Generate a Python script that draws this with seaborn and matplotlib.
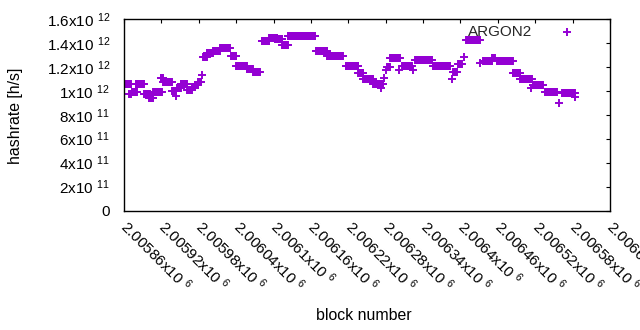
import numpy as np
import pandas as pd
import matplotlib
matplotlib.use("Agg")
import matplotlib.pyplot as plt
import seaborn as sns

# runs of consecutive blocks that share one hashrate value
run_start = [2005860, 2005868, 2005873, 2005879, 2005892, 2005900, 2005907, 2005919,
             2005923, 2005937, 2005943, 2005945, 2005951, 2005961, 2005969, 2005974,
             2005979, 2005985, 2005987, 2005993, 2006003, 2006014, 2006032, 2006040,
             2006057, 2006067, 2006081, 2006093, 2006102, 2006114, 2006123, 2006168,
             2006186, 2006216, 2006236, 2006244, 2006260, 2006272, 2006277, 2006281,
             2006282, 2006287, 2006301, 2006306, 2006324, 2006327, 2006356, 2006386,
             2006388, 2006396, 2006406, 2006409, 2006431, 2006436, 2006451, 2006459,
             2006484, 2006496, 2006513, 2006516, 2006536, 2006558, 2006563, 2006584]
run_end = [2005871, 2005871, 2005881, 2005892, 2005902, 2005907, 2005921, 2005923,
           2005937, 2005943, 2005943, 2005951, 2005961, 2005969, 2005974, 2005979,
           2005984, 2005985, 2005993, 2006003, 2006014, 2006030, 2006040, 2006057,
           2006067, 2006078, 2006093, 2006106, 2006114, 2006123, 2006167, 2006186,
           2006211, 2006236, 2006244, 2006260, 2006276, 2006272, 2006277, 2006281,
           2006287, 2006303, 2006301, 2006322, 2006324, 2006354, 2006383, 2006386,
           2006394, 2006402, 2006406, 2006431, 2006431, 2006451, 2006455, 2006484,
           2006496, 2006515, 2006513, 2006532, 2006555, 2006558, 2006584, 2006584]
run_rate = [1.06, 0.97, 0.99, 1.055, 0.97, 0.94, 0.99, 1.11,
            1.07, 1.00, 0.96, 1.02, 1.06, 1.01, 1.03, 1.05,
            1.07, 1.13, 1.28, 1.32, 1.335, 1.355, 1.29, 1.21,
            1.18, 1.16, 1.42, 1.445, 1.43, 1.38, 1.455, 1.33,
            1.295, 1.21, 1.145, 1.10, 1.06, 1.02, 1.11, 1.17,
            1.195, 1.27, 1.17, 1.21, 1.17, 1.255, 1.21, 1.095,
            1.16, 1.22, 1.28, 1.425, 1.23, 1.245, 1.275, 1.245,
            1.145, 1.095, 1.02, 1.045, 0.99, 0.895, 0.98, 0.945]

x_ticks = [2005860, 2005920, 2005980, 2006040, 2006100, 2006160, 2006220,
           2006280, 2006340, 2006400, 2006460, 2006520, 2006580, 2006640]
x_tick_labels = ['2.00586x10 $^{6}$', '2.00592x10 $^{6}$', '2.00598x10 $^{6}$',
                 '2.00604x10 $^{6}$', '2.0061x10 $^{6}$', '2.00616x10 $^{6}$',
                 '2.00622x10 $^{6}$', '2.00628x10 $^{6}$', '2.00634x10 $^{6}$',
                 '2.0064x10 $^{6}$', '2.00646x10 $^{6}$', '2.00652x10 $^{6}$',
                 '2.00658x10 $^{6}$', '2.00664x10 $^{6}$']
y_ticks = [0, 0.2e12, 0.4e12, 0.6e12, 0.8e12, 1.0e12, 1.2e12, 1.4e12, 1.6e12]
y_tick_labels = ['0', '2x10 $^{11}$', '4x10 $^{11}$', '6x10 $^{11}$', '8x10 $^{11}$',
                 '1x10 $^{12}$', '1.2x10 $^{12}$', '1.4x10 $^{12}$', '1.6x10 $^{12}$']

blocks = np.concatenate([np.arange(s, e + 1) for s, e in zip(run_start, run_end)])
rates = np.concatenate([np.full(e - s + 1, r * 1e12) for s, e, r in zip(run_start, run_end, run_rate)])
df = pd.DataFrame({'block': blocks, 'hashrate': rates})

sns.set_style('white')
plt.rcParams['font.family'] = ['Liberation Sans', 'DejaVu Sans']
plt.rcParams['mathtext.fontset'] = 'custom'
plt.rcParams['mathtext.rm'] = 'Liberation Sans'
plt.rcParams['mathtext.it'] = 'Liberation Sans'
plt.rcParams['mathtext.bf'] = 'Liberation Sans'
fs = 11

fig = plt.figure(figsize=(6.4, 3.3), dpi=100)
ax = fig.add_axes([124 / 640, 1 - 210.5 / 330, 486 / 640, 191.5 / 330])

sns.scatterplot(data=df, x='block', y='hashrate', marker='+', color='#9400d3',
                s=26, linewidth=1.4, label='ARGON2', ax=ax)

ax.set_xlim(2005860, 2006640)
ax.set_ylim(0, 1.6e12)
ax.set_xticks(x_ticks)
ax.set_xticklabels(x_tick_labels, rotation=-45, ha='left', va='center',
                   rotation_mode='anchor', fontsize=fs)
ax.set_yticks(y_ticks)
ax.set_yticklabels(y_tick_labels, fontsize=fs)
ax.tick_params(direction='in', length=3, width=0.8, top=True, right=True,
               color='black', labelcolor='black')
ax.tick_params(axis='y', pad=10)
ax.tick_params(axis='x', pad=9)
for sp in ax.spines.values():
    sp.set_color('black')
    sp.set_linewidth(1)

ax.set_xlabel('block number', fontsize=fs + 0.4, color='black')
ax.set_ylabel('hashrate [h/s]', fontsize=fs + 0.4, color='black')
ax.xaxis.set_label_coords((364 - 124) / 486, -(308 - 210.5) / 191.5)
ax.yaxis.set_label_coords(-(124 - 23) / 486, (210.5 - 116) / 191.5)

leg = ax.legend(loc='upper right', bbox_to_anchor=(575 / 640, 1 - 25 / 330),
                bbox_transform=fig.transFigure, frameon=False, markerfirst=False,
                fontsize=fs, handlelength=1.0, handletextpad=1.8,
                borderaxespad=0, borderpad=0)

fig.savefig('out.png', dpi=100)
